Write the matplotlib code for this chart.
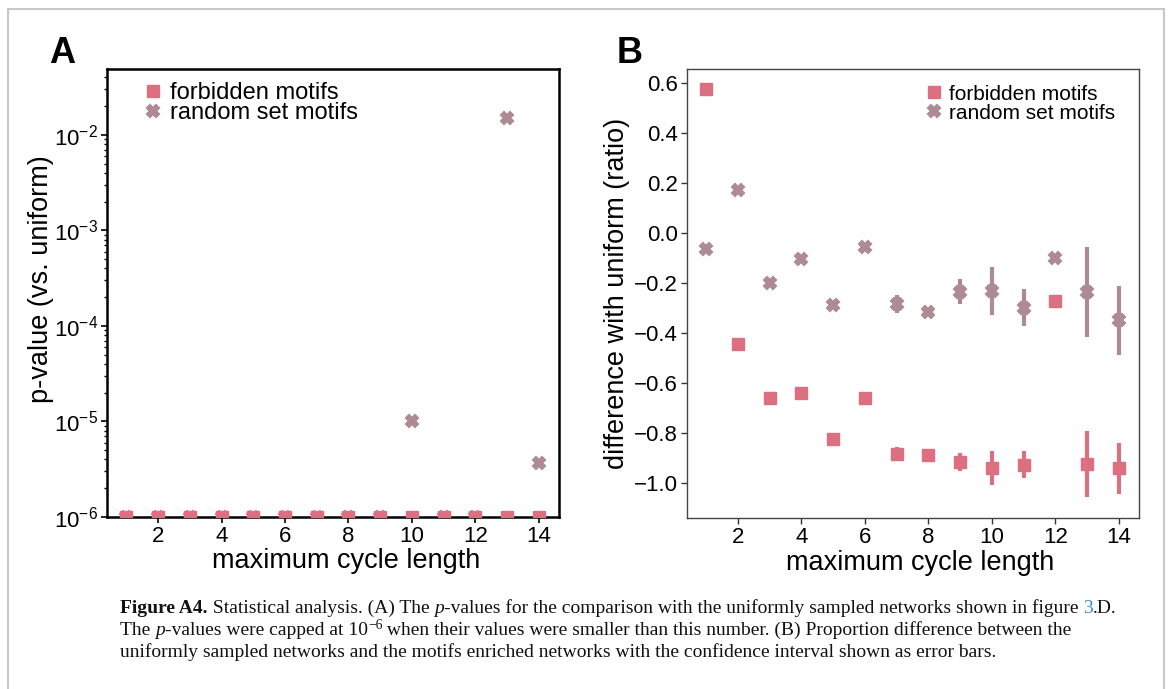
import matplotlib.pyplot as plt
import matplotlib.patches as mpatches
from matplotlib.lines import Line2D

plt.rcParams['font.family'] = ['Liberation Sans', 'DejaVu Sans']

cycle_len = list(range(1, 15))

# panel A: p-values (capped at 1e-6)
p_forbidden = [1e-6] * 14
p_random = [1e-6, 1e-6, 1e-6, 1e-6, 1e-6, 1e-6, 1e-6, 1e-6, 1e-6,
            1.02e-5, 1e-6, 1e-6, 0.0151, 3.7e-6]

# panel B: difference with uniform (ratio) and error bars
diff_forbidden = [0.579, -0.442, -0.661, -0.642, -0.824, -0.661, -0.883,
                  -0.887, -0.916, -0.941, -0.928, -0.271, -0.924, -0.941]
err_forbidden = [0, 0, 0, 0, 0, 0, 0.027, 0.005, 0.036, 0.069, 0.054,
                 0, 0.132, 0.102]
diff_random = [-0.063, 0.172, -0.201, -0.103, -0.286, -0.055, -0.282,
               -0.315, -0.235, -0.231, -0.299, -0.100, -0.236, -0.349]
err_random = [0, 0, 0, 0, 0, 0, 0.036, 0.008, 0.05, 0.097, 0.074, 0,
              0.18, 0.137]

c_forb = '#dc7080'
c_rand = '#ae8a92'

W, H = 1168, 689
fig = plt.figure(figsize=(W / 100, H / 100), dpi=100)

# outer frame
fig.add_artist(mpatches.Rectangle((8 / W, -0.05), 1156 / W, 1 - 8.5 / H + 0.05,
                                  transform=fig.transFigure, fill=False,
                                  edgecolor='#c8c8c8', lw=1.5))


def px_axes(l, t, r, b):
    return fig.add_axes([l / W, 1 - b / H, (r - l) / W, (b - t) / H])


axA = px_axes(107, 69, 559, 517)
axB = px_axes(687, 68.5, 1139, 517.5)

mk_rand = dict(marker='X', ms=9, mew=1.5, color=c_rand, ls='none')
mk_forb = dict(marker='s', ms=8.5, color=c_forb, ls='none')
leg_handles = [Line2D([], [], **mk_forb), Line2D([], [], **mk_rand)]
leg_labels = ['forbidden motifs', 'random set motifs']
leg_kw = dict(frameon=False, handlelength=0.8, borderpad=0, borderaxespad=0)

# ---- A ----
axA.plot(cycle_len, p_random, zorder=2, **mk_rand)
axA.plot(cycle_len, p_forbidden, zorder=3, **mk_forb)
axA.set_yscale('log')
axA.set_ylim(1e-6, 0.049)
axA.set_xlim(0.39, 14.64)
axA.set_xticks([2, 4, 6, 8, 10, 12, 14])
axA.set_yticks([1e-6, 1e-5, 1e-4, 1e-3, 1e-2])
axA.set_xlabel('maximum cycle length', fontsize=19.5)
axA.set_ylabel('p-value (vs. uniform)', fontsize=19.5)
axA.xaxis.set_label_coords(0.529, -0.069)
axA.yaxis.set_label_coords(-0.118, 0.532)
axA.tick_params(labelsize=16, length=4, width=1.2, pad=2.5)
axA.tick_params(which='minor', length=2.5, width=1)
for s in axA.spines.values():
    s.set_linewidth(1.8)
axA.legend(leg_handles, leg_labels, loc='upper left', fontsize=17,
           bbox_to_anchor=(0.08, 0.97), handletextpad=0.35,
           labelspacing=-0.1, **leg_kw)
fig.text(49 / W, 1 - 63 / H, 'A', fontsize=26, fontweight='bold')

# ---- B ----
axB.errorbar(cycle_len, diff_forbidden, yerr=err_forbidden, fmt='s', color=c_forb,
             ms=8.5, elinewidth=3, capsize=0)
axB.errorbar(cycle_len, diff_random, yerr=err_random, fmt='X', color=c_rand,
             ms=9, mew=1.5, elinewidth=3, capsize=0)
axB.set_ylim(-1.139, 0.66)
axB.set_xlim(0.40, 14.63)
axB.set_xticks([2, 4, 6, 8, 10, 12, 14])
axB.set_yticks([0.6, 0.4, 0.2, 0.0, -0.2, -0.4, -0.6, -0.8, -1.0])
axB.set_yticklabels(['0.6', '0.4', '0.2', '0.0', '\u22120.2', '\u22120.4',
                     '\u22120.6', '\u22120.8', '\u22121.0'])
axB.set_xlabel('maximum cycle length', fontsize=19.5)
axB.set_ylabel('difference with uniform (ratio)', fontsize=19.5)
axB.xaxis.set_label_coords(0.515, -0.072)
axB.yaxis.set_label_coords(-0.125, 0.5)
axB.tick_params(labelsize=16, length=4, width=1, pad=2.5, color='#333333')
for s in axB.spines.values():
    s.set_linewidth(1.0)
    s.set_color('#444444')
axB.legend(leg_handles, leg_labels, loc='upper right', fontsize=15,
           bbox_to_anchor=(0.947, 0.964), handletextpad=0.34,
           labelspacing=0.0, **leg_kw)
fig.text(617 / W, 1 - 63 / H, 'B', fontsize=26, fontweight='bold')

# caption, laid out piece by piece
serif = ['Liberation Serif', 'DejaVu Serif']
cs = 14
renderer = fig.canvas.get_renderer()


def caption_line(x_px, y_px, parts):
    x = x_px
    for txt, kw in parts:
        style = dict(family=serif, fontsize=cs, color='#111111')
        style.update(kw)
        dy = style.pop('dy', 0)
        t = fig.text(x / W, 1 - (y_px - dy) / H, txt, **style)
        x += t.get_window_extent(renderer).width


caption_line(120, 613, [
    ('Figure A4.', dict(fontweight='bold')),
    (' Statistical analysis. (A) The ', {}),
    ('p', dict(style='italic')),
    ('-values for the comparison with the uniformly sampled networks shown in figure ', {}),
    ('3', dict(color='#2b8fd6')),
    ('.D.', {}),
])
caption_line(120, 635, [
    ('The ', {}),
    ('p', dict(style='italic')),
    ('-values were capped at 10', {}),
    ('\u22126', dict(fontsize=cs * 0.7, dy=6)),
    (' when their values were smaller than this number. (B) Proportion difference between the', {}),
])
caption_line(120, 657, [
    ('uniformly sampled networks and the motifs enriched networks with the '
     'confidence interval shown as error bars.', {}),
])

fig.savefig('out.png', dpi=100)
